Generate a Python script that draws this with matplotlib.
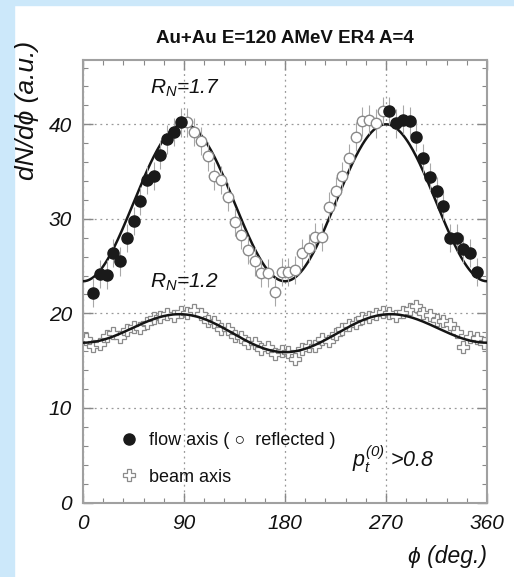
import numpy as np
import matplotlib
matplotlib.use("Agg")
import matplotlib.pyplot as plt
from matplotlib.lines import Line2D
from matplotlib.patches import Rectangle
from matplotlib.ticker import MultipleLocator

plt.rcParams['font.family'] = ['Liberation Sans', 'DejaVu Sans']
plt.rcParams['font.style'] = 'italic'
plt.rcParams['mathtext.fontset'] = 'custom'
plt.rcParams['mathtext.it'] = 'Liberation Sans:italic'
plt.rcParams['mathtext.rm'] = 'Liberation Sans:italic'

# flow axis (filled) - measured
flow_phi = [9, 15, 21, 27, 33, 39, 45, 51, 57, 63, 69, 75, 81, 87,
            273, 279, 285, 291, 297, 303, 309, 315, 321, 327, 333, 339, 345, 351]
flow_val = [22.2, 24.2, 24.1, 26.4, 25.5, 28.0, 29.8, 31.9, 34.1, 34.5, 36.8, 38.4, 39.2, 40.2,
            41.4, 40.1, 40.5, 40.3, 38.7, 36.4, 34.4, 32.9, 31.4, 28.0, 28.0, 26.8, 26.4, 24.4]

# reflected (open circles)
refl_phi = [93, 99, 105, 111, 117, 123, 129, 135, 141, 147, 153, 159, 165, 171, 177,
            183, 189, 195, 201, 207, 213, 219, 225, 231, 237, 243, 249, 255, 261, 267]
refl_val = [40.2, 39.2, 38.2, 36.6, 34.5, 34.1, 32.3, 29.7, 28.3, 26.7, 25.5, 24.3, 24.3, 22.3, 24.4,
            24.4, 24.6, 26.4, 26.9, 28.1, 28.1, 31.3, 32.9, 34.5, 36.4, 38.7, 40.3, 40.5, 40.1, 41.4]

# beam axis
beam_phi = list(range(3, 360, 6))
beam_val = [17.3, 16.6, 16.8, 17.6, 17.9, 17.5, 18.2, 18.6, 18.5, 19.0,
            19.5, 19.6, 19.9, 19.7, 20.1, 20.0, 20.4, 19.9, 19.2, 19.1,
            18.4, 18.4, 17.6, 17.5, 16.9, 16.9, 16.2, 16.4, 15.7, 16.0,
            15.9, 15.2, 16.2, 16.5, 16.6, 17.3, 17.1, 17.8, 18.3, 18.8,
            19.0, 19.5, 19.6, 19.9, 20.2, 20.0, 19.7, 20.1, 20.5, 20.8,
            20.0, 19.8, 19.3, 19.2, 18.9, 18.0, 16.4, 17.5, 17.4, 16.9]

# fit parameters: c + a1*cos(phi) - a2*cos(2 phi)
fit_flow = (31.7, 0.0, 8.3)
fit_beam = (18.15, 0.5, 1.75)

phi_fine = np.linspace(0, 360, 361)
def fit(p, c):
    r = np.radians(p)
    return c[0] + c[1] * np.cos(r) - c[2] * np.cos(2 * r)

fig = plt.figure(figsize=(5.14, 5.77), dpi=100, facecolor='white')
fig.patches.append(Rectangle((0, 0), 14 / 514, 1, transform=fig.transFigure,
                             color='#cce8fa', zorder=0))
fig.patches.append(Rectangle((0, 1 - 5 / 577), 1, 5 / 577, transform=fig.transFigure,
                             color='#cce8fa', zorder=0))

ax = fig.add_axes([83 / 514, 74.5 / 577, 404 / 514, 442.5 / 577])
ax.set_xlim(0, 360)
ax.set_ylim(0, 46.8)

grey = '#8a8a8a'
ax.grid(True, which='major', linestyle=(0, (1.5, 3)), color='#999999', linewidth=0.9)

ax.plot(phi_fine, fit(phi_fine, fit_flow), color='#151515', lw=1.8, zorder=3)
ax.plot(phi_fine, fit(phi_fine, fit_beam), color='#151515', lw=1.8, zorder=3)

ax.errorbar(beam_phi, beam_val, yerr=0.6, fmt='P', ms=8.5, mfc='white', mec=grey,
            mew=0.9, ecolor='#b0b0b0', elinewidth=0.8, zorder=2)
ax.errorbar(refl_phi, refl_val, yerr=1.5, fmt='o', ms=7.5, mfc='white', mec=grey,
            mew=1.0, ecolor='#a8a8a8', elinewidth=0.8, zorder=4)
ax.errorbar(flow_phi, flow_val, yerr=1.5, fmt='o', ms=8, mfc='#1a1a1a', mec='#1a1a1a',
            ecolor='#a8a8a8', elinewidth=0.8, zorder=5)

ax.xaxis.set_major_locator(MultipleLocator(90))
ax.xaxis.set_minor_locator(MultipleLocator(18))
ax.yaxis.set_major_locator(MultipleLocator(10))
ax.yaxis.set_minor_locator(MultipleLocator(2))
ax.tick_params(which='both', direction='in', top=True, right=True, colors='#888888',
               labelcolor='#111111', labelsize=15)
ax.tick_params(which='major', length=7, width=1.0, pad=8)
ax.tick_params(which='minor', length=3.5, width=0.8)
for s in ax.spines.values():
    s.set_color('#a0a0a0')
    s.set_linewidth(1.5)

ax.text(60, 43.2, r"$R_N$=1.7", fontsize=15, color='#111111')
ax.text(60, 22.7, r"$R_N$=1.2", fontsize=15, color='#111111')
ax.text(240, 3.8, r"$p_t^{(0)}$ >0.8", fontsize=15.5, color='#111111')

handles = [Line2D([], [], ls='none', marker='o', ms=8, mfc='#1a1a1a', mec='#1a1a1a'),
           Line2D([], [], ls='none', marker='P', ms=8.5, mfc='white', mec=grey, mew=0.9)]
leg = ax.legend(handles, ["flow axis ( \u25cb  reflected )", "beam axis"],
                loc='upper left', bbox_to_anchor=(0.07, 0.18), frameon=False,
                prop={'size': 13, 'style': 'normal'}, handlelength=1.0,
                handletextpad=0.6, borderpad=0, labelspacing=1.1)
for t in leg.get_texts():
    t.set_color('#111111')

fig.text(285 / 514, 1 - 38.5 / 577, "Au+Au E=120 AMeV ER4 A=4", ha='center', va='center',
         fontsize=13.5, fontweight='bold', style='normal', color='#111111')
fig.text(27 / 514, 1 - 41 / 577, "dN/d\u03d5 (a.u.)", rotation=90, ha='center', va='top',
         fontsize=19, color='#111111')
fig.text(487 / 514, 1 - 557 / 577, "\u03d5 (deg.)", ha='right', va='center',
         fontsize=16.5, color='#111111')

fig.savefig("out.png", dpi=100)
